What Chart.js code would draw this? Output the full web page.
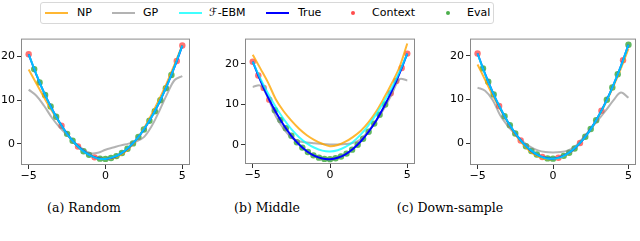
<!DOCTYPE html>
<html>
<head>
<meta charset="utf-8">
<script src="https://cdn.jsdelivr.net/npm/chart.js@4.4.0/dist/chart.umd.min.js"></script>
<style>
  body { margin: 0; width: 640px; height: 241px; background: #fff; position: relative; overflow: hidden; font-family: 'DejaVu Sans', sans-serif; }
  canvas { position: absolute; }
  #legend { position: absolute; left: 40px; top: 2px; width: 452px; height: 20px; border: 1px solid #d8d8d8; border-radius: 3px; }
  .item { position: absolute; top: 0; height: 20px; font-size: 11px; line-height: 20px; color: #000; }
  .swatch { position: absolute; top: 9px; height: 2px; width: 23px; }
  .dot { position: absolute; top: 8px; width: 4px; height: 4px; border-radius: 2px; }
  .cap { position: absolute; top: 200px; font-family: 'DejaVu Serif', serif; font-size: 12.5px; color: #000; transform: translateX(-50%); white-space: nowrap; }
</style>
</head>
<body>
<div id="legend"></div>
<canvas id="chartA" width="195" height="155" style="left:0px;top:30px"></canvas>
<canvas id="chartB" width="198" height="154" style="left:222px;top:30px"></canvas>
<canvas id="chartC" width="193" height="155" style="left:447px;top:30px"></canvas>
<div class="cap" style="left:84px">(a) Random</div>
<div class="cap" style="left:267px">(b) Middle</div>
<div class="cap" style="left:450px">(c) Down-sample</div>
<script>
// curve grid
const xs = [-5, -4.5, -4, -3.5, -3, -2.5, -2, -1.5, -1, -0.5, 0, 0.5, 1, 1.5, 2, 2.5, 3, 3.5, 4, 4.5, 5];
const trueY = [20.5, 15.85, 11.7, 8.05, 4.9, 2.25, 0.1, -1.55, -2.7, -3.35, -3.5, -3.15, -2.3, -0.95, 0.9, 3.25, 6.1, 9.45, 13.3, 17.65, 22.5];

// (a) Random
const npA  = [17.0, 13.8, 10.6, 7.6, 4.8, 2.2, 0.0, -1.6, -2.7, -3.3, -3.5, -3.3, -2.6, -1.2, 0.8, 3.5, 6.7, 10.2, 14.0, 18.2, 22.6];
const gpA  = [12.4, 11.0, 8.7, 6.0, 3.8, 2.0, 0.2, -1.2, -2.2, -2.1, -1.4, -0.9, -0.4, 0.0, 0.5, 1.5, 4.0, 7.5, 11.3, 14.6, 15.5];
const ebmA = [20.5, 15.9, 11.7, 8.0, 4.9, 2.2, 0.1, -1.6, -2.7, -3.4, -3.5, -3.1, -2.3, -0.9, 0.9, 3.3, 6.1, 9.5, 13.3, 17.7, 22.5];

// (b) Middle
const npB  = [22.2, 18.8, 15.3, 11.2, 8.3, 6.0, 4.0, 2.4, 1.2, 0.3, -0.3, 0.0, 0.8, 2.0, 3.5, 5.6, 8.3, 11.6, 15.2, 19.2, 25.0];
const gpB  = [14.3, 14.6, 11.5, 7.0, 4.0, 1.8, 0.9, 0.6, 0.4, 0.2, 0.1, 0.1, 0.2, 0.5, 1.4, 3.5, 6.0, 9.0, 12.5, 16.2, 15.9];
const ebmB = [20.5, 16.3, 12.6, 9.3, 6.4, 3.9, 1.9, 0.4, -0.7, -1.4, -1.6, -1.3, -0.5, 0.8, 2.6, 4.9, 7.6, 10.7, 14.1, 18.0, 22.5];

// (c) Down-sample
const npC  = [18.0, 14.5, 11.0, 7.8, 4.8, 2.0, -0.2, -1.9, -3.0, -3.6, -3.6, -3.2, -2.4, -1.0, 0.9, 3.2, 6.0, 9.3, 13.0, 17.1, 21.6];
const gpC  = [12.7, 12.0, 9.9, 6.4, 4.0, 2.1, 0.4, -0.8, -1.6, -2.0, -2.1, -2.0, -1.6, -0.6, 1.3, 3.3, 5.4, 7.5, 9.8, 11.6, 10.4];
const ebmC = [20.5, 15.8, 11.7, 8.1, 4.9, 2.3, 0.1, -1.5, -2.7, -3.4, -3.5, -3.2, -2.3, -0.9, 0.9, 3.2, 6.1, 9.4, 13.3, 17.6, 22.5];

// sample points (context + eval) on a 29-point grid
const ptX = [-5, -4.64, -4.29, -3.93, -3.57, -3.21, -2.86, -2.5, -2.14, -1.79, -1.43, -1.07, -0.71, -0.36, 0,
             0.36, 0.71, 1.07, 1.43, 1.79, 2.14, 2.5, 2.86, 3.21, 3.57, 3.93, 4.29, 4.64, 5];
const ptY = [20.5, 17.1, 14.05, 11.16, 8.53, 6.16, 4.11, 2.25, 0.65, -0.66, -1.74, -2.57, -3.14, -3.44, -3.5,
             -3.3, -2.86, -2.14, -1.17, 0.06, 1.51, 3.25, 5.25, 7.44, 9.96, 12.73, 15.76, 18.96, 22.5];
const ctxA = [0, 6, 9, 12, 27, 28];
const ctxB = [0, 1, 2, 3, 25, 26, 27, 28];
const ctxC = [0, 4, 8, 12, 15, 19, 23, 27];

const xTicks = [-5, 0, 5];
const yTicks = [0, 10, 20];

const legendItems = [
  { label: 'NP', color: 'rgba(255,165,0,0.8)', kind: 'line', x: 4, tx: 36 },
  { label: 'GP', color: 'rgba(128,128,128,0.6)', kind: 'line', x: 71, tx: 102 },
  { label: 'ℱ-EBM', color: 'rgba(0,255,255,0.75)', kind: 'line', x: 138, tx: 168 },
  { label: 'True', color: '#0000ff', kind: 'line', x: 225, tx: 257 },
  { label: 'Context', color: 'rgba(255,0,0,0.7)', kind: 'dot', x: 310, tx: 331 },
  { label: 'Eval', color: 'rgba(44,160,44,0.85)', kind: 'dot', x: 405, tx: 426 },
];

const legend = document.getElementById('legend');
legendItems.forEach((it) => {
  const mark = document.createElement('div');
  mark.className = it.kind === 'line' ? 'swatch' : 'dot';
  mark.style.left = it.x + 'px';
  mark.style.background = it.color;
  legend.appendChild(mark);
  const txt = document.createElement('div');
  txt.className = 'item';
  txt.style.left = it.tx + 'px';
  txt.textContent = it.label;
  legend.appendChild(txt);
});

const frame = {
  id: 'frame',
  afterDraw(chart) {
    const { ctx, chartArea: a } = chart;
    ctx.save();
    ctx.strokeStyle = '#8a8a8a';
    ctx.lineWidth = 1;
    ctx.strokeRect(a.left + 0.5, a.top + 0.5, a.right - a.left - 1, a.bottom - a.top - 1);
    ctx.restore();
  },
};

const fmt = (v) => (v < 0 ? '\u2212' + Math.abs(v) : String(v));

function line(values, color, order) {
  return {
    type: 'line',
    data: xs.map((x, i) => ({ x, y: values[i] })),
    borderColor: color,
    borderWidth: 2,
    pointRadius: 0,
    tension: 0.35,
    fill: false,
    order,
  };
}

function points(idx, isCtx, color) {
  const pts = [];
  ptX.forEach((x, i) => {
    if (idx.includes(i) === isCtx) pts.push({ x, y: ptY[i] });
  });
  return {
    type: 'scatter',
    data: pts,
    backgroundColor: color,
    borderColor: color,
    borderWidth: 0,
    pointRadius: 3.2,
    order: 10,
  };
}

function makeChart(id, np, gp, ebm, ctxIdx, yMin, yMax, yWidth, padRight) {
  new Chart(document.getElementById(id), {
    type: 'line',
    data: {
      datasets: [
        points(ctxIdx, true, 'rgba(255,0,0,0.55)'),
        points(ctxIdx, false, 'rgba(44,160,44,0.75)'),
        line(gp, 'rgba(128,128,128,0.6)', 5),
        line(np, 'rgba(255,165,0,0.8)', 4),
        line(trueY, '#0000ff', 3),
        line(ebm, 'rgba(0,255,255,0.75)', 2),
      ],
    },
    options: {
      responsive: false,
      animation: false,
      devicePixelRatio: 1,
      layout: { padding: { top: 3, right: padRight, left: 0, bottom: 0 } },
      plugins: { legend: { display: false }, tooltip: { enabled: false } },
      scales: {
        x: {
          type: 'linear', min: -5.5, max: 5.5,
          afterBuildTicks: (s) => { s.ticks = xTicks.map((v) => ({ value: v })); },
          afterFit: (s) => { s.height = 20; },
          grid: { drawOnChartArea: false, tickLength: 4, color: '#333' },
          border: { display: false },
          ticks: { color: '#000', padding: 1, maxRotation: 0, font: { family: 'DejaVu Sans', size: 11 }, callback: fmt },
        },
        y: {
          type: 'linear', min: yMin, max: yMax,
          afterBuildTicks: (s) => { s.ticks = yTicks.map((v) => ({ value: v })); },
          afterFit: (s) => { s.width = yWidth; },
          grid: { drawOnChartArea: false, tickLength: 4, color: '#333' },
          border: { display: false },
          ticks: { color: '#000', padding: 2, font: { family: 'DejaVu Sans', size: 11 }, callback: fmt },
        },
      },
    },
    plugins: [frame],
  });
}

makeChart('chartA', npA, gpA, ebmA, ctxA, -4.9, 24.1, 21, 5);
makeChart('chartB', npB, gpB, ebmB, ctxB, -4.7, 26.2, 23, 5);
makeChart('chartC', npC, gpC, ebmC, ctxC, -4.95, 23.9, 23, 3);
</script>
</body>
</html>
